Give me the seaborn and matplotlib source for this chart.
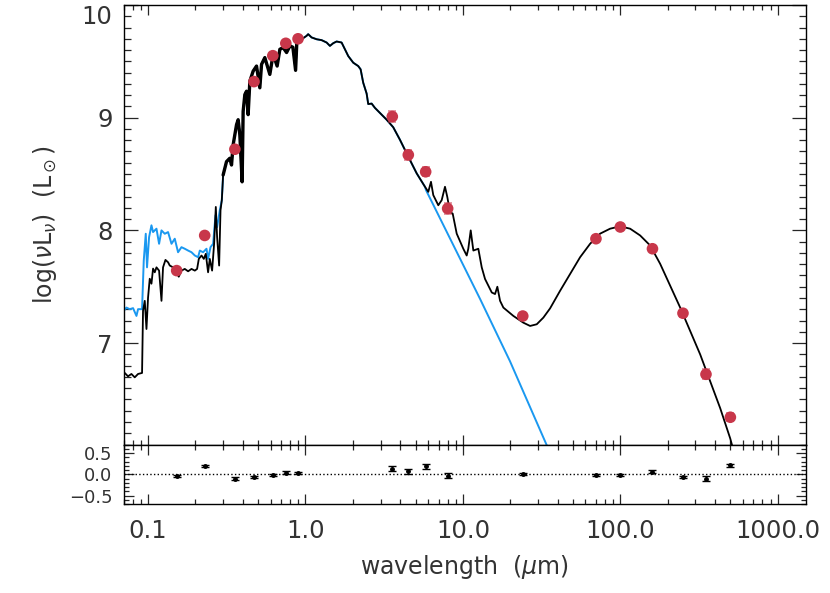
import numpy as np
import matplotlib
matplotlib.use("Agg")
import matplotlib.pyplot as plt
import seaborn as sns
from matplotlib.ticker import LogLocator, MultipleLocator, NullFormatter

# photometry (wavelength in micron, log nuLnu in Lsun)
phot_wave = [0.152, 0.229, 0.356, 0.471, 0.62, 0.75, 0.897, 3.56, 4.5, 5.8, 8.0,
             24.0, 70.0, 100.0, 160.0, 250.0, 350.0, 500.0]
phot_lum = [7.643, 7.955, 8.72, 9.32, 9.55, 9.66, 9.70, 9.01, 8.67, 8.52, 8.194,
            7.24, 7.926, 8.03, 7.837, 7.265, 6.723, 6.342]
phot_err = [0.02, 0.02, 0.02, 0.02, 0.02, 0.02, 0.02, 0.045, 0.045, 0.04, 0.045,
            0.02, 0.02, 0.02, 0.02, 0.03, 0.045, 0.035]
resid = [-0.04, 0.20, -0.10, -0.06, -0.02, 0.04, 0.03, 0.13, 0.07, 0.19, -0.03,
         0.0, -0.02, -0.02, 0.06, -0.06, -0.10, 0.21]
resid_err = [0.03, 0.03, 0.03, 0.03, 0.03, 0.03, 0.03, 0.06, 0.06, 0.06, 0.06,
             0.02, 0.03, 0.03, 0.03, 0.03, 0.05, 0.04]

# full model (stellar + dust), black
model_wave = [0.0711, 0.0746, 0.0784, 0.0823, 0.0864, 0.0916, 0.0929, 0.0953, 0.0977, 0.100,
              0.1025, 0.1051, 0.1076, 0.1103, 0.1131, 0.1175, 0.1217, 0.1245, 0.1290, 0.1340,
              0.1374, 0.1442, 0.1515, 0.1567, 0.1630, 0.1711, 0.1796, 0.1888, 0.1982, 0.2049,
              0.2101, 0.2186, 0.2260, 0.2327, 0.2406, 0.2467, 0.2552, 0.2628, 0.2694, 0.2746,
              0.2828, 0.2886, 0.2941]
model_lum = [6.735, 6.705, 6.726, 6.696, 6.726, 6.735, 7.286, 7.375, 7.125, 7.404,
             7.571, 7.527, 7.661, 7.628, 7.672, 7.643, 7.375, 7.672, 7.738, 7.717,
             7.688, 7.672, 7.628, 7.589, 7.643, 7.658, 7.637, 7.658, 7.643, 7.658,
             7.747, 7.777, 7.747, 7.792, 7.628, 7.747, 7.643, 7.881, 8.208, 7.940,
             7.688, 8.179, 8.268]

# shared stellar part (both curves coincide here)
star_wave = [0.2998, 0.3150, 0.3306, 0.3390, 0.3471, 0.3648, 0.3735, 0.3828, 0.3959, 0.4018,
             0.4119, 0.4223, 0.4323, 0.4432, 0.4651, 0.4887, 0.5129, 0.5259, 0.5518, 0.5937,
             0.6231, 0.6607, 0.6876, 0.7216, 0.7584, 0.7961, 0.8318, 0.8653, 0.8818, 0.9446,
             1.016, 1.040, 1.0935, 1.177, 1.266, 1.362, 1.430, 1.501, 1.577, 1.696,
             1.781, 1.869, 2.011, 2.163, 2.240, 2.327, 2.446, 2.504, 2.632, 2.762,
             2.972, 3.278, 3.610, 3.982, 4.498, 5.086, 5.742]
star_lum = [8.491, 8.610, 8.640, 8.580, 8.759, 8.938, 8.982, 8.848, 8.431, 9.056,
            9.205, 9.235, 9.027, 9.324, 9.413, 9.458, 9.265, 9.473, 9.533, 9.384,
            9.563, 9.458, 9.607, 9.622, 9.578, 9.637, 9.625, 9.420, 9.679, 9.696,
            9.726, 9.741, 9.712, 9.696, 9.688, 9.667, 9.637, 9.661, 9.676, 9.667,
            9.607, 9.547, 9.488, 9.458, 9.429, 9.310, 9.214, 9.121, 9.125, 9.087,
            9.042, 8.982, 8.915, 8.804, 8.654, 8.506, 8.387]

# dust-dominated part of the full model
dust_wave = [6.026, 6.270, 6.484, 6.977, 7.332, 7.695, 7.958, 8.279, 8.613, 9.134,
             10.06, 10.57, 10.82, 11.21, 11.65, 12.53, 13.17, 13.82, 14.51, 15.25,
             16.00, 16.55, 17.22, 18.07, 20.92, 24.21, 26.72, 29.45, 32.44, 35.79,
             41.43, 47.97, 55.53, 64.27, 74.4, 86.1, 99.7, 115.4, 133.6, 154.7,
             179.1, 207.3, 240.0, 277.8, 321.6, 372.3, 431.0, 498.9, 536.8]
dust_lum = [8.342, 8.431, 8.313, 8.223, 8.268, 8.387, 8.297, 8.163, 8.149, 7.971,
            7.837, 7.777, 7.837, 8.000, 7.821, 7.837, 7.672, 7.569, 7.509, 7.449,
            7.435, 7.500, 7.375, 7.315, 7.241, 7.181, 7.152, 7.167, 7.226, 7.308,
            7.464, 7.613, 7.762, 7.881, 7.971, 8.015, 8.036, 8.015, 7.955, 7.866,
            7.703, 7.509, 7.315, 7.107, 6.899, 6.661, 6.422, 6.154, 5.991]

# unattenuated stellar model, blue
uv_wave = [0.0701, 0.0729, 0.0765, 0.0803, 0.0844, 0.0864, 0.0916, 0.0939, 0.0967, 0.0985,
           0.1015, 0.1051, 0.1076, 0.1131, 0.1175, 0.1217, 0.1277, 0.1340, 0.1409, 0.1478,
           0.1551, 0.1630, 0.1711, 0.1796, 0.1888, 0.1982, 0.2079, 0.2132, 0.2237, 0.2351,
           0.2406, 0.2493, 0.2590, 0.2682, 0.2746, 0.2856, 0.2941]
uv_lum = [7.286, 7.315, 7.301, 7.310, 7.241, 7.301, 7.301, 7.732, 7.970, 7.672,
          7.940, 8.045, 7.985, 8.015, 7.881, 8.000, 7.970, 7.985, 7.881, 7.926,
          7.806, 7.851, 7.837, 7.821, 7.806, 7.777, 7.762, 7.821, 7.806, 7.837,
          7.747, 7.851, 7.881, 8.134, 8.029, 8.179, 8.268]
tail_wave = [5.83, 12.84, 19.91, 34.2, 41.4]
tail_lum = [8.357, 7.393, 6.839, 6.089, 5.82]

RED = "#C8374A"
BLUE = "#1A98F0"
TXT = "#333333"

sns.set_style("ticks")
plt.rcParams["font.family"] = ["DejaVu Sans"]
plt.rcParams["mathtext.fontset"] = "dejavusans"

fig = plt.figure(figsize=(8.3, 5.93), dpi=100)
ax = fig.add_axes([0.149, 0.2504, 0.822, 0.7412])
axr = fig.add_axes([0.149, 0.150, 0.822, 0.1004], sharex=ax)

blue_w = uv_wave + star_wave + tail_wave
blue_l = uv_lum + star_lum + tail_lum
black_w = model_wave + star_wave + dust_wave
black_l = model_lum + star_lum + dust_lum

sns.lineplot(x=blue_w, y=blue_l, ax=ax, color=BLUE, lw=1.4, sort=False, estimator=None)
sns.lineplot(x=black_w, y=black_l, ax=ax, color="black", lw=1.3, sort=False, estimator=None)
# dense spectral noise in the optical makes the line look thicker there
sns.lineplot(x=star_wave[:30], y=star_lum[:30], ax=ax, color="black", lw=2.4,
             sort=False, estimator=None)
ax.errorbar(phot_wave, phot_lum, yerr=phot_err, fmt="none", ecolor=RED, alpha=0.6,
            elinewidth=1.2, capsize=3.2, capthick=1.2)
sns.scatterplot(x=phot_wave, y=phot_lum, ax=ax, color=RED, s=70, edgecolor="none", zorder=5)

ax.set_xscale("log")
ax.set_xlim(0.07, 1510)
ax.set_ylim(6.1, 10.0)
ax.set_yticks([7, 8, 9, 10])
ax.set_yticklabels(["7", "8", "9", "10"])
ax.get_yticklabels()[-1].set_va("top")
ax.yaxis.set_minor_locator(MultipleLocator(0.1))
ax.set_ylabel(r"log($\nu$L$_\nu$)  (L$_\odot$)", fontsize=17, color=TXT, labelpad=16)
ax.tick_params(axis="x", which="both", labelbottom=False)

# residual panel
axr.axhline(0, color="black", ls=":", lw=1.0)
axr.errorbar(phot_wave, resid, yerr=resid_err, fmt="o", ms=2.5, color="black",
             elinewidth=1.0, capsize=3, capthick=1.0)
axr.set_ylim(-0.7, 0.7)
axr.set_yticks([-0.5, 0.0, 0.5])
axr.set_yticklabels(["\u22120.5", "0.0", "0.5"])
axr.yaxis.set_minor_locator(MultipleLocator(0.1))
axr.set_xticks([0.1, 1, 10, 100, 1000])
axr.set_xticklabels(["0.1", "1.0", "10.0", "100.0", "1000.0"])
axr.xaxis.set_minor_locator(LogLocator(base=10, subs=np.arange(2, 10)))
axr.xaxis.set_minor_formatter(NullFormatter())
axr.set_xlabel(r"wavelength  ($\mu$m)", fontsize=17, color=TXT, labelpad=7)

for a in (ax, axr):
    for sp in a.spines.values():
        sp.set_linewidth(1.0)
        sp.set_color("black")
    a.tick_params(which="both", direction="in", top=True, right=True,
                  labelsize=17.5, labelcolor=TXT, width=0.9)
    a.tick_params(axis="x", which="major", length=7, pad=11)
    a.tick_params(axis="x", which="minor", length=3.6)
ax.tick_params(axis="y", which="major", length=10, pad=8)
ax.tick_params(axis="y", which="minor", length=5)
axr.tick_params(axis="y", which="major", length=7, pad=8, labelsize=13)
axr.tick_params(axis="y", which="minor", length=3.5)

fig.savefig("out.png", dpi=100)
